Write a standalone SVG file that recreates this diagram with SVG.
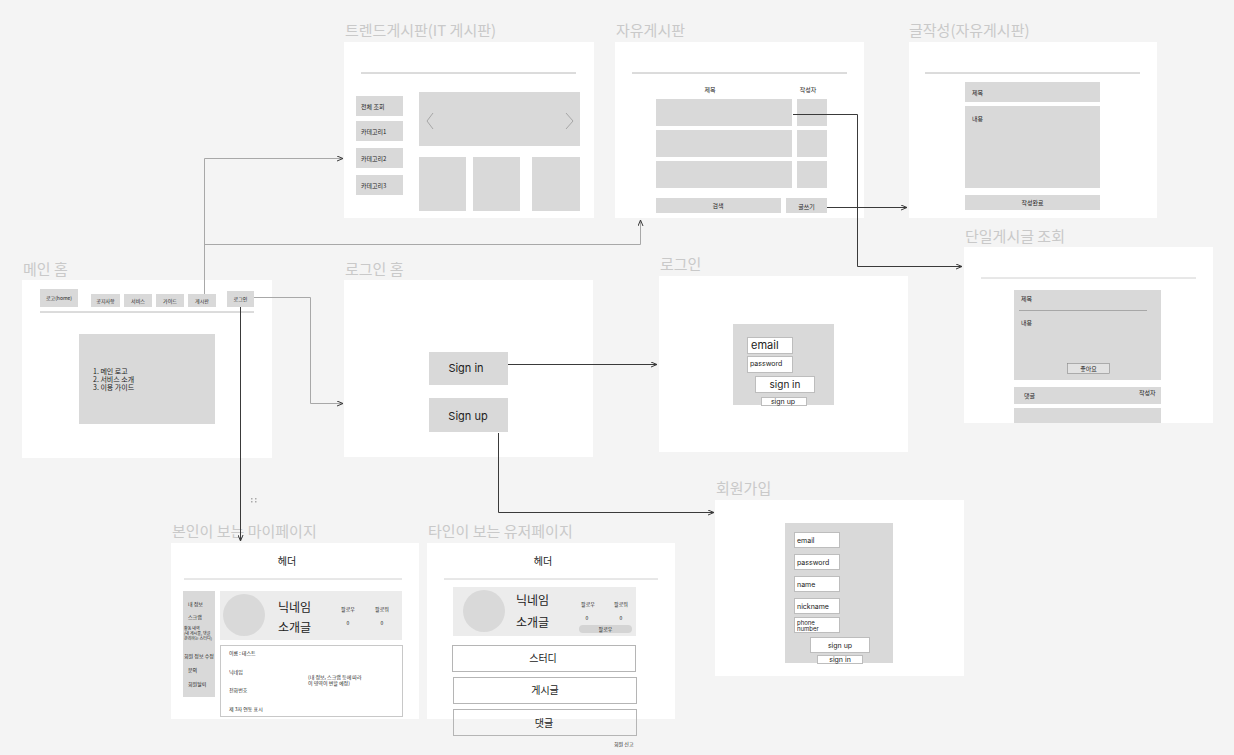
<svg xmlns="http://www.w3.org/2000/svg" width="1234" height="755" viewBox="0 0 1234 755">
  <style>
    text { font-family: "Noto Sans CJK KR", "Noto Sans", sans-serif; fill: #222; }
    .title { font-size: 15px; fill: #c9c9c9; }
    .frame { fill: #ffffff; }
    .box { fill: #d9d9d9; }
    .lite { fill: #ececec; }
    .rule { stroke: #b8b8b8; stroke-width: 1; }
    .t5 { font-size: 5px; }
    .t6 { font-size: 6px; }
    .t7 { font-size: 7px; }
    .t8 { font-size: 8px; }
    .t10 { font-size: 10px; }
    .t11 { font-size: 11px; }
    .t12 { font-size: 12px; }
    .latin { font-family: "Inter", "Noto Sans", sans-serif; }
    .input { fill: #ffffff; stroke: #bdbdbd; stroke-width: 1; }
    .outline { fill: #ffffff; stroke: #b5b5b5; stroke-width: 1; }
    .mid { text-anchor: middle; }
    .wire { fill: none; stroke: #3a3a3a; stroke-width: 1; }
    .wire-lite { fill: none; stroke: #a8a8a8; stroke-width: 1; }
  </style>
  <defs>
    <marker id="arrow" viewBox="0 0 6 6" refX="6" refY="3" markerWidth="6" markerHeight="6" orient="auto" markerUnits="userSpaceOnUse">
      <path d="M0,0.5 L6,3 L0,5.5" fill="none" stroke="#3a3a3a" stroke-width="1"/>
    </marker>
  </defs>

  <rect width="1234" height="755" fill="#f4f4f4"/>

  <!-- main home -->
  <g id="main-home">
    <text class="title" x="23" y="275">메인 홈</text>
    <rect class="frame" x="22" y="280" width="250" height="178"/>
    <rect class="box" x="40" y="289" width="38" height="18"/>
    <text class="t5 mid" x="59" y="300">로고(home)</text>
    <rect class="box" x="91" y="294" width="29" height="13"/>
    <text class="t5 mid" x="105.5" y="302.5">공지사항</text>
    <rect class="box" x="124" y="294" width="28" height="13"/>
    <text class="t5 mid" x="138" y="302.5">서비스</text>
    <rect class="box" x="156" y="294" width="28" height="13"/>
    <text class="t5 mid" x="170" y="302.5">가이드</text>
    <rect class="box" x="188" y="294" width="28" height="13"/>
    <text class="t5 mid" x="202" y="302.5">게시판</text>
    <rect class="box" x="227" y="291" width="27" height="16"/>
    <text class="t5 mid" x="240.5" y="301">로그인</text>
    <line class="rule" x1="40" y1="312" x2="254" y2="312"/>
    <rect class="box" x="79" y="334" width="136" height="90"/>
    <text class="t7" x="93" y="374">1. 메인 로고</text>
    <text class="t7" x="93" y="382">2. 서비스 소개</text>
    <text class="t7" x="93" y="390">3. 이용 가이드</text>
  </g>

  <!-- trend board -->
  <g id="trend-board">
    <text class="title" x="345" y="36">트렌드게시판(IT 게시판)</text>
    <rect class="frame" x="344" y="42" width="250" height="176"/>
    <line class="rule" x1="361" y1="73" x2="576" y2="73"/>
    <rect class="box" x="356" y="96" width="47" height="20"/>
    <text class="t6" x="361" y="109">전체 조회</text>
    <rect class="box" x="356" y="121" width="47" height="20"/>
    <text class="t6" x="361" y="134">카테고리1</text>
    <rect class="box" x="356" y="148" width="47" height="20"/>
    <text class="t6" x="361" y="161">카테고리2</text>
    <rect class="box" x="356" y="175" width="47" height="20"/>
    <text class="t6" x="361" y="188">카테고리3</text>
    <rect class="box" x="419" y="92" width="161" height="54"/>
    <path d="M433,113 L427,121 L433,129" fill="none" stroke="#999" stroke-width="0.8"/>
    <path d="M566,113 L573,121 L566,129" fill="none" stroke="#999" stroke-width="0.8"/>
    <rect class="box" x="419" y="157" width="47" height="54"/>
    <rect class="box" x="473" y="157" width="47" height="54"/>
    <rect class="box" x="532" y="157" width="48" height="54"/>
  </g>

  <!-- free board -->
  <g id="free-board">
    <text class="title" x="616" y="36">자유게시판</text>
    <rect class="frame" x="615" y="42" width="249" height="176"/>
    <line class="rule" x1="632" y1="73" x2="847" y2="73"/>
    <text class="t6 mid" x="710" y="92">제목</text>
    <text class="t6 mid" x="808" y="92">작성자</text>
    <rect class="box" x="656" y="99" width="136" height="27"/>
    <rect class="box" x="797" y="99" width="30" height="27"/>
    <rect class="box" x="656" y="130" width="136" height="27"/>
    <rect class="box" x="797" y="130" width="30" height="27"/>
    <rect class="box" x="656" y="161" width="136" height="27"/>
    <rect class="box" x="797" y="161" width="30" height="27"/>
    <rect class="box" x="656" y="198" width="125" height="15"/>
    <text class="t6 mid" x="718" y="208">검색</text>
    <rect class="box" x="786" y="198" width="41" height="15"/>
    <text class="t6 mid" x="806.5" y="208.5">글쓰기</text>
  </g>

  <!-- write post -->
  <g id="write-post">
    <text class="title" x="909" y="36">글작성(자유게시판)</text>
    <rect class="frame" x="909" y="42" width="248" height="176"/>
    <line class="rule" x1="925" y1="73" x2="1140" y2="73"/>
    <rect class="box" x="965" y="82" width="135" height="20"/>
    <text class="t6" x="972" y="95">제목</text>
    <rect class="box" x="965" y="106" width="135" height="82"/>
    <text class="t6" x="972" y="121">내용</text>
    <rect class="box" x="965" y="195" width="135" height="15"/>
    <text class="t6 mid" x="1032.5" y="205">작성완료</text>
  </g>

  <!-- single post -->
  <g id="single-post">
    <text class="title" x="965" y="242">단일게시글 조회</text>
    <rect class="frame" x="964" y="247" width="249" height="176"/>
    <line x1="981" y1="278" x2="1196" y2="278" stroke="#d0d0d0" stroke-width="1"/>
    <rect class="box" x="1014" y="290" width="147" height="90"/>
    <text class="t6" x="1021" y="301">제목</text>
    <line x1="1019" y1="310.5" x2="1147" y2="310.5" stroke="#9a9a9a" stroke-width="0.8"/>
    <text class="t6" x="1021" y="325">내용</text>
    <rect x="1067.5" y="363.5" width="42" height="10" fill="#e2e2e2" stroke="#8a8a8a" stroke-width="0.6"/>
    <text class="t6 mid" x="1088.5" y="371">좋아요</text>
    <rect class="box" x="1014" y="387" width="147" height="17"/>
    <text class="t6" x="1024" y="398">댓글</text>
    <text class="t6" x="1139" y="395">작성자</text>
    <rect class="box" x="1014" y="408" width="147" height="15"/>
  </g>

  <!-- login home -->
  <g id="login-home">
    <text class="title" x="345" y="275">로그인 홈</text>
    <rect class="frame" x="344" y="280" width="249" height="177"/>
    <rect class="box" x="429" y="352" width="79" height="33"/>
    <text class="t11 latin mid" x="466" y="372">Sign in</text>
    <rect class="box" x="429" y="398" width="79" height="34"/>
    <text class="t11 latin mid" x="468" y="420">Sign up</text>
  </g>

  <!-- login -->
  <g id="login">
    <text class="title" x="660" y="270">로그인</text>
    <rect class="frame" x="659" y="276" width="249" height="176"/>
    <rect class="box" x="733" y="324" width="101" height="81"/>
    <rect class="input" x="747.5" y="337.5" width="45" height="16"/>
    <text class="t11 latin" x="751" y="349">email</text>
    <rect class="input" x="747.5" y="356.5" width="45" height="16"/>
    <text class="t7 latin" x="750" y="366">password</text>
    <rect class="input" x="755.5" y="376.5" width="59" height="16"/>
    <text class="t10 latin mid" x="785" y="388">sign in</text>
    <rect class="input" x="761.5" y="397.5" width="45" height="8"/>
    <text class="t7 latin mid" x="783" y="404">sign up</text>
  </g>

  <!-- sign-up -->
  <g id="sign-up">
    <text class="title" x="716" y="494">회원가입</text>
    <rect class="frame" x="715" y="500" width="249" height="176"/>
    <rect class="box" x="785" y="523" width="108" height="140"/>
    <rect class="input" x="794.5" y="532.5" width="45" height="15"/>
    <text class="t7 latin" x="797" y="543">email</text>
    <rect class="input" x="794.5" y="554.5" width="45" height="15"/>
    <text class="t7 latin" x="797" y="565">password</text>
    <rect class="input" x="794.5" y="576.5" width="45" height="15"/>
    <text class="t7 latin" x="797" y="587">name</text>
    <rect class="input" x="794.5" y="598.5" width="45" height="15"/>
    <text class="t7 latin" x="797" y="609">nickname</text>
    <rect class="input" x="794.5" y="617.5" width="45" height="15"/>
    <text class="t6 latin" x="797" y="624.5">phone</text>
    <text class="t6 latin" x="797" y="631">number</text>
    <rect class="input" x="810.5" y="637.5" width="59" height="15"/>
    <text class="t7 latin mid" x="840" y="647.5">sign up</text>
    <rect class="input" x="817.5" y="655.5" width="45" height="8"/>
    <text class="t7 latin mid" x="840" y="662">sign in</text>
  </g>

  <!-- my page -->
  <g id="my-page">
    <text class="title" x="172" y="537">본인이 보는 마이페이지</text>
    <rect class="frame" x="171" y="543" width="248" height="176"/>
    <text class="t10 mid" x="287" y="565">헤더</text>
    <line x1="184" y1="579" x2="402" y2="579" stroke="#d0d0d0" stroke-width="1"/>
    <rect class="box" x="183" y="591" width="32" height="106"/>
    <text class="t5" x="188" y="606">내 정보</text>
    <text class="t5" x="188" y="619">스크랩</text>
    <text class="t5" x="184" y="630" style="font-size:4px">활동 내역</text>
    <text class="t5" x="184" y="635" style="font-size:4px">(내 게시물, 댓글</text>
    <text class="t5" x="184" y="640" style="font-size:4px">관리하는 스터디)</text>
    <text class="t5" x="184" y="658">회원 정보 수정</text>
    <text class="t5" x="188" y="672">문의</text>
    <text class="t5" x="188" y="686">회원탈퇴</text>
    <rect class="lite" x="220" y="591" width="182" height="49"/>
    <circle cx="244" cy="615" r="21" fill="#d9d9d9"/>
    <text class="t12" x="278" y="612">닉네임</text>
    <text class="t12" x="278" y="632">소개글</text>
    <text class="t5 mid" x="348" y="611">팔로우</text>
    <text class="t5 mid" x="382" y="611">팔로워</text>
    <text class="t5 mid" x="348" y="625">0</text>
    <text class="t5 mid" x="382" y="625">0</text>
    <rect x="220.5" y="645.5" width="182" height="71" fill="#ffffff" stroke="#c8c8c8" stroke-width="1"/>
    <text class="t5" x="229" y="655">이름 : 테스트</text>
    <text class="t5" x="229" y="674">닉네임</text>
    <text class="t5" x="229" y="692">전화번호</text>
    <text class="t5" x="229" y="711">제 3자 연동 표시</text>
    <text class="t5" x="308" y="679">(내 정보, 스크랩 등에 따라</text>
    <text class="t5" x="308" y="685">이 영역이 변할 예정)</text>
  </g>

  <!-- user page -->
  <g id="user-page">
    <text class="title" x="428" y="537">타인이 보는 유저페이지</text>
    <rect class="frame" x="427" y="543" width="248" height="176"/>
    <text class="t10 mid" x="543" y="565">헤더</text>
    <line x1="444" y1="579" x2="658" y2="579" stroke="#d0d0d0" stroke-width="1"/>
    <rect class="lite" x="453" y="587" width="183" height="49"/>
    <circle cx="484" cy="611" r="21" fill="#d9d9d9"/>
    <text class="t12" x="516" y="605">닉네임</text>
    <text class="t12" x="516" y="627">소개글</text>
    <text class="t5 mid" x="588" y="606">팔로우</text>
    <text class="t5 mid" x="621" y="606">팔로워</text>
    <text class="t5 mid" x="587" y="620">0</text>
    <text class="t5 mid" x="621" y="620">0</text>
    <rect x="579" y="625" width="53" height="8" rx="4" fill="#d4d4d4"/>
    <text class="t5 mid" x="605.5" y="631">팔로우</text>
    <rect class="outline" x="452.5" y="645.5" width="183" height="26"/>
    <text class="t10 mid" x="543" y="662">스터디</text>
    <rect class="outline" x="453.5" y="677.5" width="183" height="26"/>
    <text class="t10 mid" x="545" y="694">게시글</text>
    <rect x="453.5" y="709.5" width="183" height="26" fill="none" stroke="#b5b5b5" stroke-width="1"/>
    <text class="t10 mid" x="544" y="727">댓글</text>
    <text class="t5" x="614" y="746">회원 신고</text>
  </g>

  <!-- connectors -->
  <g id="connectors">
    <polyline class="wire-lite" points="204.5,294 204.5,158.5 343,158.5" marker-end="url(#arrow)"/>
    <polyline class="wire-lite" points="204.5,244.5 640.5,244.5 640.5,220" marker-end="url(#arrow)"/>
    <polyline class="wire-lite" points="254,297.5 310.5,297.5 310.5,403.5 343,403.5" marker-end="url(#arrow)"/>
    <polyline class="wire" points="240.5,307 240.5,541" marker-end="url(#arrow)"/>
    <rect x="251" y="498" width="1.5" height="1.5" fill="#aaa"/>
    <rect x="251" y="501" width="1.5" height="1.5" fill="#aaa"/>
    <rect x="255" y="498" width="1.5" height="1.5" fill="#aaa"/>
    <rect x="255" y="501" width="1.5" height="1.5" fill="#aaa"/>
    <polyline class="wire" points="793,114.5 857.5,114.5 857.5,266.5 962,266.5" marker-end="url(#arrow)"/>
    <polyline class="wire" points="827,207.5 907,207.5" marker-end="url(#arrow)"/>
    <polyline class="wire" points="508,364.5 657,364.5" marker-end="url(#arrow)"/>
    <polyline class="wire" points="498.5,433 498.5,512.5 714,512.5" marker-end="url(#arrow)"/>
  </g>
</svg>
